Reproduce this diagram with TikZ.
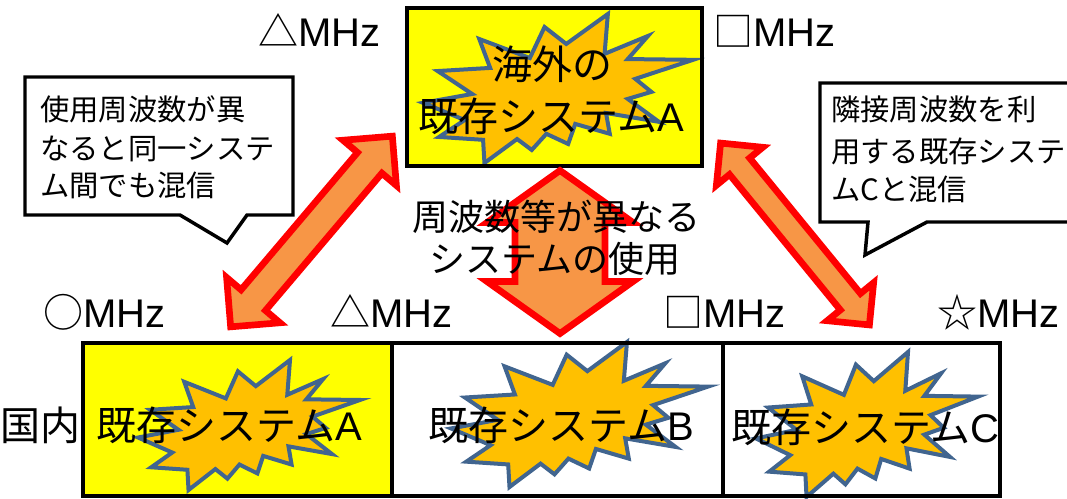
\documentclass[tikz,border=0pt]{standalone}
\usepackage{fontspec}
\setmainfont{Noto Sans CJK JP}
\newfontfamily\lat{Liberation Sans}
\definecolor{boxyellow}{HTML}{FFFF00}
\definecolor{burstfill}{HTML}{FFC000}
\definecolor{burstline}{HTML}{41658F}
\definecolor{arrowfill}{HTML}{F79646}
\definecolor{arrowline}{HTML}{FF0000}
\newcommand{\burstshape}[4]{%
\begin{scope}[shift={(#1,#2)},xscale=#3/100,yscale=#4/100]
\filldraw[burst] (53.06,20.10) -- (68.47,0) -- (67.25,26.75) -- (83.37,14.69) -- (75.83,30.24) -- (100,30.76) -- (78.63,43.53) -- (84.58,52.27) -- (75.83,56.99) -- (87.39,72.37) -- (67.78,66.44) -- (69.18,80.42) -- (56.39,73.77) -- (53.76,87.23) -- (45.70,80.42) -- (40.28,91.26) -- (34.85,83.91) -- (22.76,100) -- (22.25,84.44) -- (5.95,82.52) -- (15.42,71.16) -- (0,59.62) -- (18.22,53.67) -- (5.43,38.29) -- (24.87,36.19) -- (20.84,16.78) -- (39.58,29.55) -- (45.01,8.74) -- cycle;
\end{scope}}
\newcommand{\dblarrow}[7]{%
\begin{scope}[shift={(#1,#2)},rotate=#3]
\filldraw[dblarr] (-#4/2,0) -- (-#4/2+#6,#5) -- (-#4/2+#6,#7) -- (#4/2-#6,#7) -- (#4/2-#6,#5) -- (#4/2,0) -- (#4/2-#6,-#5) -- (#4/2-#6,-#7) -- (-#4/2+#6,-#7) -- (-#4/2+#6,-#5) -- cycle;
\end{scope}}
\begin{document}
\begin{tikzpicture}[x=0.75pt,y=-0.75pt,
  burst/.style={fill=burstfill,draw=burstline,line width=3pt,line join=miter},
  dblarr/.style={fill=arrowfill,draw=arrowline,line width=5pt,line join=miter},
  boxline/.style={draw=black,line width=3pt},
  callout/.style={draw=black,fill=white,line width=2.6pt,line join=miter},
  lbl/.style={inner sep=0pt,anchor=base west,font=\fontsize{30}{36}\selectfont},
  midtxt/.style={inner sep=0pt,anchor=base,font=\fontsize{27}{32}\selectfont},
  calltxt/.style={inner sep=0pt,anchor=base west,font=\fontsize{22}{26}\selectfont}]
\useasboundingbox (0,0) rectangle (1067,499);
% top box
\fill[boxyellow] (407,8) rectangle (702,166);
\burstshape{423}{14}{270}{149}
\draw[boxline] (407,8) rectangle (702,166);
\node[lbl,anchor=base] (topA1) at (552,80) {海外の};
\node[lbl] (topA2) at (418,132) {既存システム{\lat A}};
% MHz labels
\node[lbl] (mhzTL) at (258,47) {△{\lat MHz}};
\node[lbl] (mhzTR) at (713,47) {□{\lat MHz}};
\node[lbl] (mhzA) at (43,327) {○{\lat MHz}};
\node[lbl] (mhzB) at (330,327) {△{\lat MHz}};
\node[lbl] (mhzC) at (663,327) {□{\lat MHz}};
\node[lbl] (mhzD) at (937,327) {☆{\lat MHz}};
% callouts
\filldraw[callout] (25,77) -- (293,77) -- (293,215) -- (247,215) -- (227,243) -- (180,215) -- (25,215) -- cycle;
\node[calltxt] (cl1) at (40,121) {使用周波数が異};
\node[calltxt] (cl2) at (40,160) {なると同一システ};
\node[calltxt] (cl3) at (40,196) {ム間でも混信};
\filldraw[callout] (820,83) -- (1080,83) -- (1080,222) -- (927,222) -- (865,255) -- (868,222) -- (820,222) -- cycle;
\node[calltxt] (cr1) at (831,121) {隣接周波数を利};
\node[calltxt] (cr2) at (831,163) {用する既存システ};
\node[calltxt] (cr3) at (831,200) {ムCと混信};
% arrows
\dblarrow{311.5}{231.5}{49.7}{250}{35}{35}{16}
\dblarrow{795}{234}{-50.7}{235}{30}{30}{13}
\dblarrow{560}{252}{90}{163}{73}{52}{45}
\node[midtxt] (mid1) at (556,230) {周波数等が異なる};
\node[midtxt] (mid2) at (555,272) {システムの使用};
% bottom boxes
\fill[boxyellow] (83,343) rectangle (392,496);
\fill[white] (392,343) rectangle (1000,496);
\burstshape{138}{360}{222}{130}
\burstshape{451}{342}{257}{145}
\burstshape{756}{352}{222}{145}
\node[lbl] (dom) at (0,440) {国内};
\node[lbl] (sysA) at (96,440) {既存システム{\lat A}};
\node[lbl] (sysB) at (428,440) {既存システム{\lat B}};
\begin{scope}
\clip (723,343) rectangle (999,496);
\node[lbl] (sysC) at (731,442) {既存システム{\lat C}};
\end{scope}
\draw[boxline] (83,343) rectangle (392,496);
\draw[boxline] (392,343) rectangle (723,496);
\draw[boxline] (723,343) rectangle (1000,496);
\end{tikzpicture}
\end{document}
